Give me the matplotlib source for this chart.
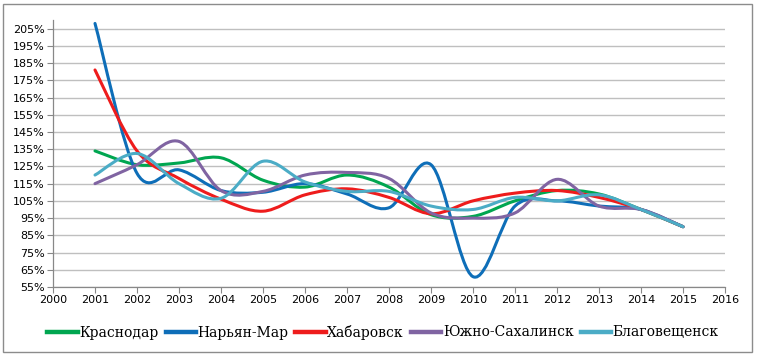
import matplotlib
matplotlib.use("Agg")
import matplotlib.pyplot as plt
import numpy as np
from matplotlib.path import Path
from matplotlib.patches import PathPatch, Rectangle
from matplotlib.lines import Line2D

years = list(range(2001, 2016))

krasnodar = [134, 126, 127, 130, 117, 113, 120, 113, 97, 96, 105, 111, 109, 100, 90]
naryan_mar = [208, 121, 123, 111, 110, 115, 109, 101, 126, 61, 102, 105, 102, 100, 90]
khabarovsk = [181, 134, 118, 106, 99, 108.5, 112, 107, 97.5, 105, 109.5, 111, 107, 100, 90]
yuzhno = [115, 126, 139.5, 111, 110.5, 120, 121.5, 118, 98, 95, 98, 117.5, 102, 100, 90]
blagov = [120, 132.5, 115, 106.5, 128, 116, 110.5, 110.5, 102, 100, 107, 105, 108.5, 100, 90]

series_names = ["Краснодар", "Нарьян-Мар", "Хабаровск", "Южно-Сахалинск", "Благовещенск"]
series_values = [krasnodar, naryan_mar, khabarovsk, yuzhno, blagov]
series_colors = ["#00A650", "#0E6EB8", "#EE1C1C", "#8064A2", "#4BACC6"]

y_ticks = list(range(55, 206, 10))
x_ticks = list(range(2000, 2017))


def smooth_path(x, y):
    # Excel-style smoothed line: cubic Bezier with Catmull-Rom control points
    pts = np.column_stack([x, np.asarray(y, dtype=float) / 100.0])
    n = len(pts)
    verts = [pts[0]]
    codes = [Path.MOVETO]
    for i in range(n - 1):
        p0 = pts[i - 1] if i > 0 else pts[i]
        p1, p2 = pts[i], pts[i + 1]
        p3 = pts[i + 2] if i + 2 < n else pts[i + 1]
        verts += [p1 + (p2 - p0) / 6, p2 - (p3 - p1) / 6, p2]
        codes += [Path.CURVE4] * 3
    return Path(verts, codes)


fig = plt.figure(figsize=(7.61, 3.56), dpi=100)
fig.patches.append(Rectangle((3 / 761, 4 / 356), 749 / 761, 348 / 356,
                             transform=fig.transFigure, fill=False,
                             edgecolor="#8c8c8c", linewidth=1.0))

ax = fig.add_axes([53 / 761, 69 / 356, 672 / 761, 267 / 356])

for name, vals, col in zip(series_names, series_values, series_colors):
    ax.add_patch(PathPatch(smooth_path(years, vals), facecolor="none",
                           edgecolor=col, linewidth=2.2, capstyle="round",
                           joinstyle="round"))

ax.set_xlim(2000, 2016)
ax.set_ylim(0.55, 2.10)
ax.set_xticks(x_ticks)
ax.set_yticks([v / 100 for v in y_ticks])
ax.set_yticklabels([f"{v}%" for v in y_ticks])
ax.tick_params(labelsize=8, length=4, width=0.8, color="#888888", pad=2)
ax.grid(True, axis="y", color="#bfbfbf", linewidth=1.0)
ax.set_axisbelow(True)
for side in ("top", "right"):
    ax.spines[side].set_visible(False)
for side in ("left", "bottom"):
    ax.spines[side].set_color("#888888")
    ax.spines[side].set_linewidth(0.9)

handles = [Line2D([0], [0], color=c, linewidth=3.2) for c in series_colors]
fig.legend(handles, series_names, loc="center", ncol=5,
           bbox_to_anchor=(383 / 761, 24 / 356), frameon=False,
           prop={"family": "DejaVu Serif", "size": 10},
           handlelength=2.2, handletextpad=0.1, columnspacing=0.5)

fig.savefig("out.png", dpi=100)
